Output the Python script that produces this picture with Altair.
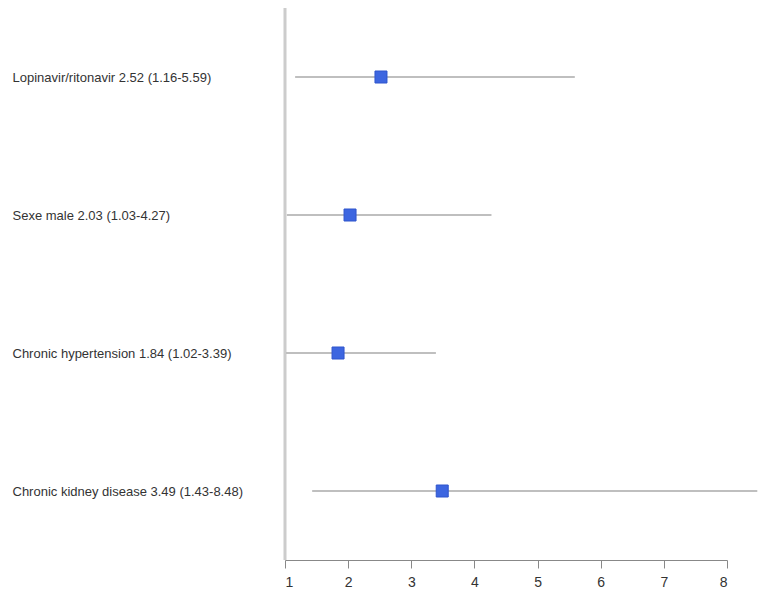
import altair as alt
import pandas as pd

names = ["Lopinavir/ritonavir", "Sexe male", "Chronic hypertension", "Chronic kidney disease"]
odds = [2.52, 2.03, 1.84, 3.49]
lower = [1.16, 1.03, 1.02, 1.43]
upper = [5.59, 4.27, 3.39, 8.48]
ticks = [1, 2, 3, 4, 5, 6, 7, 8]

labels = [f"{n} {o:.2f} ({l:.2f}-{u:.2f})" for n, o, l, u in zip(names, odds, lower, upper)]
df = pd.DataFrame({"label": labels, "or": odds, "lo": lower, "hi": upper})
ref = pd.DataFrame({"x": [1]})

FONT = "Liberation Sans"

xscale = alt.Scale(domain=[ticks[0], ticks[-1]], nice=False, zero=False)
yscale = alt.Scale(type="point", padding=0.5)
yenc = alt.Y(
    "label:N",
    sort=labels,
    scale=yscale,
    axis=alt.Axis(
        title=None, domain=False, ticks=False, labelAlign="left",
        labelPadding=273, labelFontSize=13, labelFont=FONT, labelColor="#333333",
        labelLimit=300,
    ),
)

refline = alt.Chart(ref).mark_rule(color="#cccccc", strokeWidth=3).encode(
    x=alt.X("x:Q", scale=xscale)
)

whisk = alt.Chart(df).mark_rule(color="#808080", strokeWidth=1.2).encode(
    x=alt.X(
        "lo:Q", scale=xscale,
        axis=alt.Axis(
            title=None, values=ticks, grid=False, domainColor="#888888",
            tickColor="#888888", tickSize=8, labelFontSize=14, labelFont=FONT,
            labelColor="#333333", labelPadding=7, format="d",
        ),
    ),
    x2="hi:Q",
    y=yenc,
)

pts = alt.Chart(df).mark_point(
    shape="square", filled=True, size=144, fill="#3d66e0", stroke="#2f55cc",
    strokeWidth=1, opacity=1,
).encode(x=alt.X("or:Q", scale=xscale), y=alt.Y("label:N", sort=labels, scale=yscale))

chart = (
    alt.layer(refline, whisk, pts)
    .properties(
        width=442, height=552,
        autosize=alt.AutoSizeParams(type="none"),
        padding={"left": 277, "top": 0, "right": 31, "bottom": 30},
    )
    .configure_view(stroke=None)
)

chart.save("out.html", embed_options={"renderer": "svg", "actions": False})
